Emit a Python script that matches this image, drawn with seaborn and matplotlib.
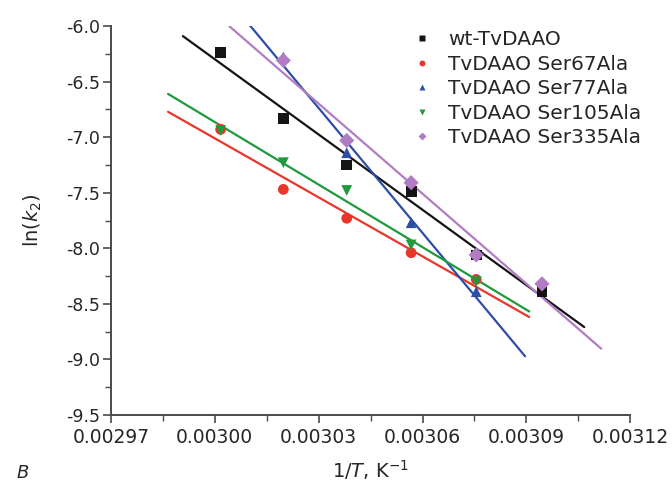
import numpy as np
import pandas as pd
import matplotlib
matplotlib.use('Agg')
import matplotlib.pyplot as plt
import seaborn as sns
from matplotlib.ticker import MultipleLocator, FormatStrFormatter

# data: 1/T (K^-1) against ln(k2)
inv_T = [0.0030017, 0.0030198, 0.0030381, 0.0030567, 0.0030755, 0.0030945]

names = ['wt-TvDAAO', 'TvDAAO Ser67Ala', 'TvDAAO Ser77Ala',
         'TvDAAO Ser105Ala', 'TvDAAO Ser335Ala']

x_wt = inv_T
y_wt = [-6.24, -6.83, -7.25, -7.49, -8.06, -8.39]
x_67 = inv_T[:5]
y_67 = [-6.93, -7.47, -7.73, -8.04, -8.28]
x_77 = inv_T[1:5]
y_77 = [-6.28, -7.14, -7.77, -8.39]
x_105 = inv_T[:5]
y_105 = [-6.94, -7.23, -7.48, -7.97, -8.30]
x_335 = inv_T[1:]
y_335 = [-6.31, -7.03, -7.41, -8.06, -8.32]

# x range covered by each fitted line
fit_from = [0.0029908, 0.0029865, 0.0030097, 0.0029865, 0.0030042]
fit_to = [0.0031067, 0.0030908, 0.0030896, 0.0030908, 0.0031116]

colors = ['#141414', '#e8372a', '#2d4ea6', '#1e9a3c', '#b27cc4']
markers = ['s', 'o', '^', 'v', 'D']

xs = [x_wt, x_67, x_77, x_105, x_335]
ys = [y_wt, y_67, y_77, y_105, y_335]

df = pd.concat([pd.DataFrame({'x': x, 'y': y, 'enzyme': n})
                for x, y, n in zip(xs, ys, names)], ignore_index=True)

sns.set_style('ticks')
plt.rcParams['font.family'] = ['DejaVu Sans']

fig = plt.figure(figsize=(6.72, 4.9), dpi=100)
ax = fig.add_axes([0.165, 0.153, 0.773, 0.794])

# linear fits (Arrhenius lines)
for x, y, a, b, c in zip(xs, ys, fit_from, fit_to, colors):
    k, m = np.polyfit(x, y, 1)
    xx = np.array([a, b])
    ax.plot(xx, k * xx + m, color=c, lw=1.6, zorder=2)

sns.scatterplot(data=df, x='x', y='y', hue='enzyme', style='enzyme',
                palette=dict(zip(names, colors)), markers=dict(zip(names, markers)),
                s=60, edgecolor='none', ax=ax, zorder=3)

ax.set_xlim(0.00297, 0.00312)
ax.set_ylim(-9.5, -6.0)
ax.xaxis.set_major_locator(MultipleLocator(0.00003))
ax.xaxis.set_minor_locator(MultipleLocator(0.000015))
ax.xaxis.set_major_formatter(FormatStrFormatter('%.5f'))
ax.yaxis.set_major_locator(MultipleLocator(0.5))
ax.yaxis.set_minor_locator(MultipleLocator(0.25))
ax.yaxis.set_major_formatter(FormatStrFormatter('%.1f'))

sns.despine(ax=ax)
for s in ['left', 'bottom']:
    ax.spines[s].set_color('#4a4a4a')
    ax.spines[s].set_linewidth(1.4)
ax.tick_params(which='major', length=6, width=1.2, color='#4a4a4a')
ax.tick_params(which='minor', length=4, width=1.0, color='#4a4a4a')
ax.tick_params(axis='x', labelsize=13.5, pad=3)
ax.tick_params(axis='y', labelsize=12.5, pad=2)
ax.set_yticklabels([t.get_text().replace('\u2212', '-') for t in ax.get_yticklabels()])

ax.set_xlabel(r'1/$\mathit{T}$, K$^{-1}$', fontsize=14, labelpad=8)
ax.set_ylabel(r'ln($\mathit{k}_2$)', fontsize=14, labelpad=16)

leg = ax.legend(loc='upper right', bbox_to_anchor=(1.045, 1.02), frameon=False,
                fontsize=14.5, markerscale=0.55, handletextpad=0.3,
                labelspacing=0.27, borderaxespad=0.2)

fig.text(0.025, 0.025, 'B', fontsize=13, style='italic')

fig.savefig('out.png', dpi=100)
